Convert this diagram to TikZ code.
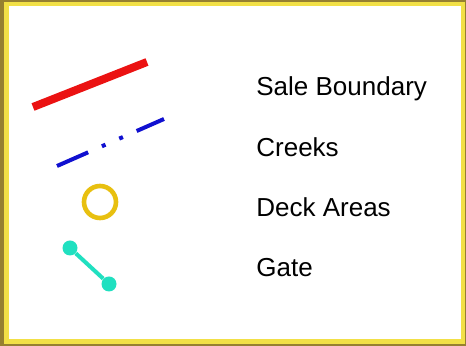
\documentclass[tikz,border=0pt]{standalone}
\usepackage{fontspec}
\setmainfont{Liberation Sans}
\definecolor{framegold}{RGB}{150,128,48}
\definecolor{frameyellow}{RGB}{242,224,70}
\definecolor{salered}{RGB}{235,18,18}
\definecolor{creekblue}{RGB}{16,16,208}
\definecolor{deckgold}{RGB}{232,192,16}
\definecolor{gateteal}{RGB}{32,224,192}
\begin{document}
\begin{tikzpicture}[x=0.5pt,y=-0.5pt,font=\fontsize{13}{15}\selectfont,
  lbl/.style={anchor=base west,inner sep=0pt},
  gatedot/.style={circle,fill=gateteal,minimum size=7.5pt,inner sep=0pt}]
\useasboundingbox (0,0) rectangle (466,346);
% frame
\fill[framegold] (0,0) rectangle (466,346);
\fill[frameyellow] (4,2) rectangle (465,344);
\fill[white] (9,6) rectangle (461,339);
% symbols
\coordinate (sale1) at (33,107);
\coordinate (sale2) at (147,62);
\draw[salered,line width=4pt] (sale1) -- (sale2);
\coordinate (creek1) at (57,166);
\coordinate (creek2) at (164,119);
\draw[creekblue,line width=2pt,dash pattern=on 17pt off 7.5pt on 2pt off 7.5pt on 2pt off 7.5pt on 20pt] (creek1) -- (creek2);
\node[circle,draw=deckgold,line width=2.3pt,minimum size=16pt,inner sep=0pt] (deck) at (100,202) {};
\node[gatedot] (gate1) at (70,248) {};
\node[gatedot] (gate2) at (109,284) {};
\draw[gateteal,line width=2pt] (gate1) -- (gate2);
% labels
\node[lbl] (saletxt) at (256,96) {Sale Boundary};
\node[lbl] (creektxt) at (256,157) {Creeks};
\node[lbl] (decktxt) at (256,217) {Deck Areas};
\node[lbl] (gatetxt) at (256,277) {Gate};
\end{tikzpicture}
\end{document}
